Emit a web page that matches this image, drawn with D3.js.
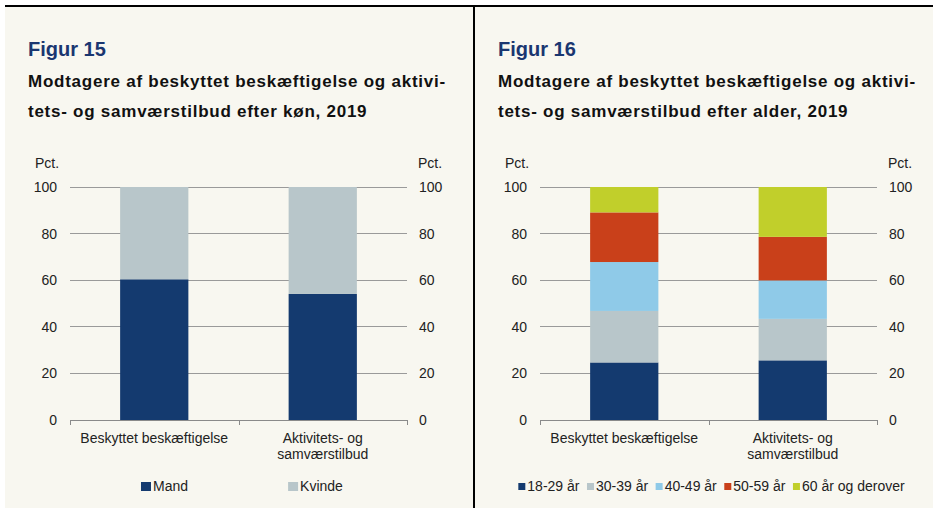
<!DOCTYPE html>
<html>
<head>
<meta charset="utf-8">
<script src="https://cdn.jsdelivr.net/npm/d3@7"></script>
<style>
  body { margin: 0; background: #fff; }
  svg { display: block; font-family: "Liberation Sans", Arial, sans-serif; }
</style>
</head>
<body>
<svg id="chart" width="933" height="508"></svg>
<script>
// categories (line-broken as in the figure)
const categories = ["Beskyttet beskæftigelse", "Aktivitets- og samværstilbud"];
const categoryLines = [["Beskyttet beskæftigelse"], ["Aktivitets- og", "samværstilbud"]];
const yTicks = [0, 20, 40, 60, 80, 100];

// Figur 15: by gender
const genderSeries = ["Mand", "Kvinde"];
const mand = [60.4, 54.1];
const kvinde = [39.6, 45.9];

// Figur 16: by age
const ageSeries = ["18-29 år", "30-39 år", "40-49 år", "50-59 år", "60 år og derover"];
const age1829 = [24.7, 25.6];
const age3039 = [22.1, 17.8];
const age4049 = [21.0, 16.5];
const age5059 = [21.3, 18.7];
const age60 = [10.9, 21.4];

const navy = "#143a6f", grey = "#b8c6ca", sky = "#8fcae8", red = "#c9401a", lime = "#c1cf2b";

const svg = d3.select("#chart");

// frame
svg.append("rect").attr("x", 5).attr("y", 6).attr("width", 928).attr("height", 502).attr("fill", "#f8f7f0");
svg.append("rect").attr("x", 5).attr("y", 5).attr("width", 928).attr("height", 2).attr("fill", "#000");
svg.append("rect").attr("x", 473).attr("y", 5).attr("width", 2).attr("height", 503).attr("fill", "#000");

function panel(ox, figNo, titleLines, seriesNames, seriesValues, colors, legendMode) {
  const g = svg.append("g").attr("transform", `translate(${ox},0)`);
  const x0 = 70, x1 = 407, yTop = 187, yBot = 420;

  g.append("text").attr("x", 28).attr("y", 56).attr("font-size", 20).attr("font-weight", "bold")
    .attr("fill", "#1a3670").text(figNo);
  g.selectAll("text.title").data(titleLines).join("text").attr("class", "title")
    .attr("x", 28).attr("y", (d, i) => 87 + i * 30)
    .attr("font-size", 17).attr("letter-spacing", 0.75)
    .attr("font-weight", "bold").attr("fill", "#111").text(d => d);

  const x = d3.scaleBand().domain(categories).range([x0, x1]).padding(0);
  const y = d3.scaleLinear().domain([0, 100]).range([yBot, yTop]);

  // gridlines
  g.append("g").selectAll("line").data(yTicks.filter(t => t > 0)).join("line")
    .attr("x1", x0).attr("x2", x1).attr("y1", d => y(d)).attr("y2", d => y(d))
    .attr("stroke", "#9a9a9a").attr("stroke-width", 1).attr("shape-rendering", "crispEdges");

  // stacked bars
  const rows = categories.map((c, i) => {
    const r = { cat: c };
    seriesNames.forEach((s, k) => r[s] = seriesValues[k][i]);
    return r;
  });
  const stack = d3.stack().keys(seriesNames)(rows);
  const bw = x.bandwidth() * 0.405;
  const color = d3.scaleOrdinal().domain(seriesNames).range(colors);
  g.append("g").selectAll("g").data(stack).join("g").attr("fill", d => color(d.key))
    .selectAll("rect").data(d => d).join("rect")
    .attr("x", d => x(d.data.cat) + (x.bandwidth() - bw) / 2)
    .attr("width", bw)
    .attr("y", d => y(d[1]))
    .attr("height", d => y(d[0]) - y(d[1]));

  // baseline and category ticks
  g.append("line").attr("x1", x0).attr("x2", x1).attr("y1", yBot + 0.5).attr("y2", yBot + 0.5)
    .attr("stroke", "#8a8a8a");
  const tickXs = categories.map(c => x(c)).concat([x1]);
  g.append("g").selectAll("line").data(tickXs).join("line")
    .attr("x1", d => Math.round(d) + 0.5).attr("x2", d => Math.round(d) + 0.5)
    .attr("y1", yBot).attr("y2", yBot + 5).attr("stroke", "#8a8a8a");

  // y labels both sides
  const lab = g.append("g").attr("font-size", 14).attr("fill", "#222");
  lab.selectAll("text.l").data(yTicks).join("text").attr("class", "l")
    .attr("x", x0 - 13).attr("y", d => y(d) + 5).attr("text-anchor", "end").text(d => d);
  lab.selectAll("text.r").data(yTicks).join("text").attr("class", "r")
    .attr("x", x1 + 12).attr("y", d => y(d) + 5).text(d => d);
  lab.append("text").attr("x", 35).attr("y", 168).text("Pct.");
  lab.append("text").attr("x", 418).attr("y", 168).text("Pct.");

  // category labels
  categories.forEach((c, i) => {
    lab.append("g").selectAll("text").data(categoryLines[i]).join("text")
      .attr("x", x(c) + x.bandwidth() / 2).attr("y", (d, j) => 443 + j * 16)
      .attr("text-anchor", "middle").text(d => d);
  });

  // legend
  const leg = g.append("g").attr("font-size", 14).attr("fill", "#222");
  if (legendMode === "slots") {
    const slot = 151, cx = 240;
    seriesNames.forEach((s, k) => {
      const it = leg.append("g");
      it.append("rect").attr("width", 10).attr("height", 9).attr("y", -9).attr("fill", color(s));
      const t = it.append("text").attr("x", 12).attr("y", 0).text(s);
      const w = 12 + t.node().getComputedTextLength();
      const sx = cx - slot * seriesNames.length / 2 + slot * k + (slot - w) / 2;
      it.attr("transform", `translate(${sx},491)`);
    });
  } else {
    let cur = 0;
    seriesNames.forEach(s => {
      const it = leg.append("g");
      it.append("rect").attr("width", 7).attr("height", 7).attr("y", -8).attr("fill", color(s));
      const t = it.append("text").attr("x", 9).attr("y", 0).text(s);
      const w = 9 + t.node().getComputedTextLength();
      it.attr("transform", `translate(${cur},0)`);
      cur += w + 7.5;
    });
    const total = cur - 7.5;
    leg.attr("transform", `translate(${241.5 - total / 2},491)`);
  }
}

panel(0, "Figur 15",
  ["Modtagere af beskyttet beskæftigelse og aktivi-", "tets- og samværstilbud efter køn, 2019"],
  genderSeries, [mand, kvinde], [navy, grey], "slots");

panel(470, "Figur 16",
  ["Modtagere af beskyttet beskæftigelse og aktivi-", "tets- og samværstilbud efter alder, 2019"],
  ageSeries, [age1829, age3039, age4049, age5059, age60], [navy, grey, sky, red, lime], "compact");
</script>
</body>
</html>
